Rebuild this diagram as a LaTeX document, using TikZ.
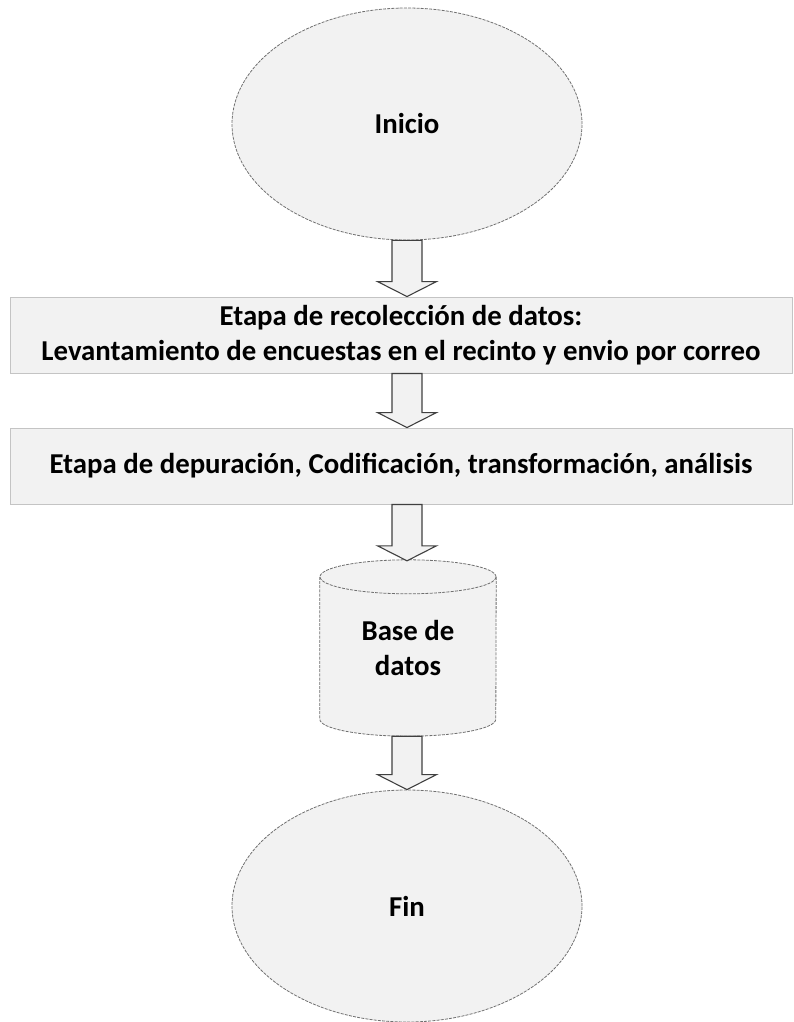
\documentclass[tikz,border=0pt]{standalone}
\usepackage{fontspec}
\setmainfont{Carlito}
\usetikzlibrary{shapes.geometric,calc}
\definecolor{shapefill}{HTML}{F2F2F2}
\definecolor{edgegray}{HTML}{707070}
\definecolor{boxedge}{HTML}{C4C4C4}
\definecolor{arrline}{HTML}{404040}
\tikzset{
  txt/.style={font=\fontsize{28.8}{35.5}\selectfont\bfseries, text=black, align=center},
  terminal/.style={txt, ellipse, draw=edgegray, fill=shapefill, line width=0.8pt,
    dash pattern=on 3pt off 1.2pt, inner sep=0pt, minimum width=350pt, minimum height=232pt},
  stagebox/.style={txt, rectangle, draw=boxedge, fill=shapefill, line width=0.9pt,
    inner sep=0pt, minimum width=782pt, minimum height=76pt},
  dbtext/.style={txt, inner sep=0pt, minimum width=176pt, minimum height=176pt},
  cylline/.style={draw=edgegray, line width=0.8pt, dash pattern=on 3pt off 1.2pt},
  blockarr/.style={draw=arrline, fill=shapefill, line width=1.1pt, line join=miter,
    to path={let \p1=(\tikztostart), \p2=(\tikztotarget) in
      (\x1-15pt,\y1) -- (\x1-15pt,\y2+15pt) -- (\x1-29.5pt,\y2+15pt) -- (\x1,\y2)
      -- (\x1+29.5pt,\y2+15pt) -- (\x1+15pt,\y2+15pt) -- (\x1+15pt,\y1) -- cycle}}
}
\begin{document}
\begin{tikzpicture}[x=1pt,y=-1pt]
\useasboundingbox (0,0) rectangle (793,1022);
% nodes
\node[terminal] (inicio) at (407,124) {Inicio};
\node[stagebox] (rec) at (401,335) {Etapa de recolección de datos:\\Levantamiento de encuestas en el recinto y envio por correo};
\node[stagebox] (dep) at (401,466) {Etapa de depuración, Codificación, transformación, análisis};
% cylinder
\node[dbtext] (db) at (408,648) {};
\fill[shapefill] ([yshift=-17pt]db.north west) -- ([yshift=17pt]db.south west)
  arc[start angle=180, end angle=360, x radius=88pt, y radius=17pt]
  -- ([yshift=-17pt]db.north east)
  arc[start angle=0, end angle=180, x radius=88pt, y radius=17pt] -- cycle;
\draw[cylline] ([yshift=-17pt]db.north west) -- ([yshift=17pt]db.south west)
  arc[start angle=180, end angle=360, x radius=88pt, y radius=17pt]
  -- ([yshift=-17pt]db.north east);
\draw[cylline] ([yshift=-17pt]db.north) ellipse[x radius=88pt, y radius=17pt];
\node[txt, inner sep=0pt] (dblabel) at ([yshift=0pt]db.center) {Base de\\datos};
\node[terminal] (fin) at (407,906) {Fin};
% connectors
\draw[blockarr] (inicio.south) to (rec.north -| inicio.south);
\draw[blockarr] (rec.south -| inicio.south) to (dep.north -| inicio.south);
\draw[blockarr] (dep.south -| inicio.south) to ([yshift=-1pt]db.north -| inicio.south);
\draw[blockarr] (db.south -| inicio.south) to (fin.north);
\end{tikzpicture}
\end{document}
